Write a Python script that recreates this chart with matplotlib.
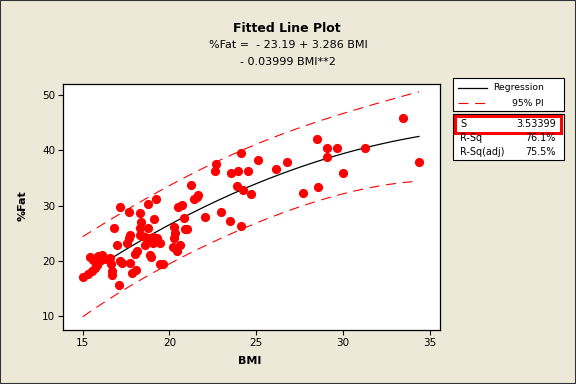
import numpy as np
import matplotlib
matplotlib.use("Agg")
import matplotlib.pyplot as plt
from matplotlib.patches import Rectangle

# values
bmi = [15.0, 15.33, 15.52, 15.71, 15.81, 15.43, 15.62, 15.9, 16.1, 16.06,
       16.38, 16.58, 16.63, 16.67, 16.71, 16.96, 17.1, 17.15, 17.25, 17.73,
       17.85, 18.05, 17.55, 17.65, 17.72, 16.78, 17.17, 17.68, 18.32, 18.38,
       18.32, 18.32, 18.42, 18.6, 18.75, 18.8, 18.6, 18.13, 17.99, 18.9,
       18.95, 18.79, 19.22, 19.09, 19.08, 19.28, 19.47, 19.05, 19.43, 19.62,
       20.25, 20.3, 20.25, 20.2, 20.4, 20.45, 20.58, 20.52, 20.7, 20.81,
       20.87, 21.0, 21.23, 21.42, 21.58, 21.67, 22.07, 22.6, 22.67, 22.96,
       23.46, 23.53, 23.88, 23.94, 24.1, 24.1, 24.26, 24.55, 24.7, 25.12,
       26.16, 26.79, 27.71, 28.5, 28.58, 29.07, 29.07, 29.65, 30.01, 31.28,
       33.47, 34.37]
fat = [17.0, 17.6, 18.2, 18.7, 19.3, 20.6, 20.2, 20.8, 21.1, 20.2,
       20.3, 20.5, 19.4, 18.2, 17.5, 22.9, 15.6, 20.0, 19.6, 19.6,
       17.8, 18.3, 23.3, 24.1, 24.7, 26.0, 29.7, 28.8, 28.6, 27.1,
       25.9, 24.7, 24.4, 24.3, 26.0, 24.1, 22.8, 21.8, 21.2, 21.1,
       20.6, 30.2, 31.2, 27.6, 23.15, 24.05, 23.3, 24.35, 19.5, 19.5,
       26.2, 25.1, 24.1, 22.5, 22.4, 21.7, 22.85, 29.8, 30.1, 27.8,
       25.8, 25.8, 33.65, 31.1, 31.6, 31.9, 27.9, 36.25, 37.5, 28.8,
       27.2, 35.8, 33.5, 36.25, 39.45, 26.3, 32.9, 36.25, 32.0, 38.2,
       36.55, 37.9, 32.2, 42.0, 33.3, 40.5, 38.7, 40.35, 35.8, 40.35,
       45.8, 37.8]

coef = [-23.19, 3.286, -0.03999]
s_val = 3.53399
stats_names = ["S", "R-Sq", "R-Sq(adj)"]
stats_vals = ["3.53399", "76.1%", "75.5%"]

W, H = 576, 384
bg = "#ECE9D8"
plt.rcParams['font.family'] = ['DejaVu Sans']

fig = plt.figure(figsize=(W / 100, H / 100), dpi=100, facecolor=bg)


def fx(px):
    return px / W


def fy(py):
    return 1 - py / H


ax = fig.add_axes([fx(63), fy(330), fx(440) - fx(63), fy(84) - fy(330)])
ax.set_facecolor("white")

# prediction interval from the fitted model and the x values
x = np.array(bmi)
X = np.column_stack([np.ones_like(x), x, x ** 2])
xtx_inv = np.linalg.inv(X.T @ X)
xs = np.linspace(x.min(), x.max(), 300)
Xs = np.column_stack([np.ones_like(xs), xs, xs ** 2])
yhat = coef[0] + coef[1] * xs + coef[2] * xs ** 2
lev = np.einsum("ij,jk,ik->i", Xs, xtx_inv, Xs)
half = 1.987 * s_val * np.sqrt(1 + lev)

dash = (9, 6)
ax.plot(xs, yhat + half, color="red", lw=0.8, dashes=dash, zorder=2)
ax.plot(xs, yhat - half, color="red", lw=0.8, dashes=dash, zorder=2)
ax.plot(xs, yhat, color="black", lw=0.9, zorder=2)
ax.plot(bmi, fat, "o", color="red", ms=5.6, mec="red", zorder=3)

ax.set_xlim(13.87, 35.58)
ax.set_ylim(7.47, 52.0)
ax.set_xticks([15, 20, 25, 30, 35])
ax.set_yticks([10, 20, 30, 40, 50])
ax.tick_params(direction="out", length=3.5, width=0.8, labelsize=7.5, pad=2)
for sp in ax.spines.values():
    sp.set_linewidth(0.9)

fig.text(fx(250), fy(361), "BMI", ha="center", va="center", fontsize=8, fontweight="bold")
fig.text(fx(23), fy(206), "%Fat", ha="center", va="center", fontsize=8,
         fontweight="bold", rotation=90)

fig.text(fx(287), fy(28), "Fitted Line Plot", ha="center", va="center",
         fontsize=9, fontweight="bold")
fig.text(fx(288), fy(44.5), "%Fat =  - 23.19 + 3.286 BMI", ha="center", va="center", fontsize=8)
fig.text(fx(288), fy(62), "- 0.03999 BMI**2", ha="center", va="center", fontsize=8)


def box(x0, y0, x1, y1, ec="black", lw=0.8):
    fig.patches.append(Rectangle((fx(x0), fy(y1)), fx(x1) - fx(x0), fy(y0) - fy(y1),
                                 transform=fig.transFigure, facecolor="white",
                                 edgecolor=ec, lw=lw))


# legend box
box(453, 78, 564, 111)
fig.add_artist(plt.Line2D([fx(458), fx(487)], [fy(88), fy(88)], color="black", lw=0.9,
                          transform=fig.transFigure))
fig.add_artist(plt.Line2D([fx(458), fx(485)], [fy(103), fy(103)], color="red", lw=0.8,
                          dashes=dash, transform=fig.transFigure))
fig.text(fx(544), fy(88), "Regression", ha="right", va="center", fontsize=6.7)
fig.text(fx(544), fy(103), "95% PI", ha="right", va="center", fontsize=6.7)

# summary box
box(453, 114, 564, 160)
fig.patches.append(Rectangle((fx(455), fy(133)), fx(561) - fx(455), fy(116) - fy(133),
                             transform=fig.transFigure, facecolor="none",
                             edgecolor="red", lw=2.2, zorder=5))
for i, (nm, v) in enumerate(zip(stats_names, stats_vals)):
    yy = fy(124 + i * 14)
    fig.text(fx(460), yy, nm, ha="left", va="center", fontsize=6.9, zorder=6)
    fig.text(fx(556), yy, v, ha="right", va="center", fontsize=6.9, zorder=6)

# outer frame
fig.patches.append(Rectangle((0, 0), 1, 1, transform=fig.transFigure, facecolor="none",
                             edgecolor="#333333", lw=1.5))

fig.savefig("out.png", dpi=100, facecolor=bg)
